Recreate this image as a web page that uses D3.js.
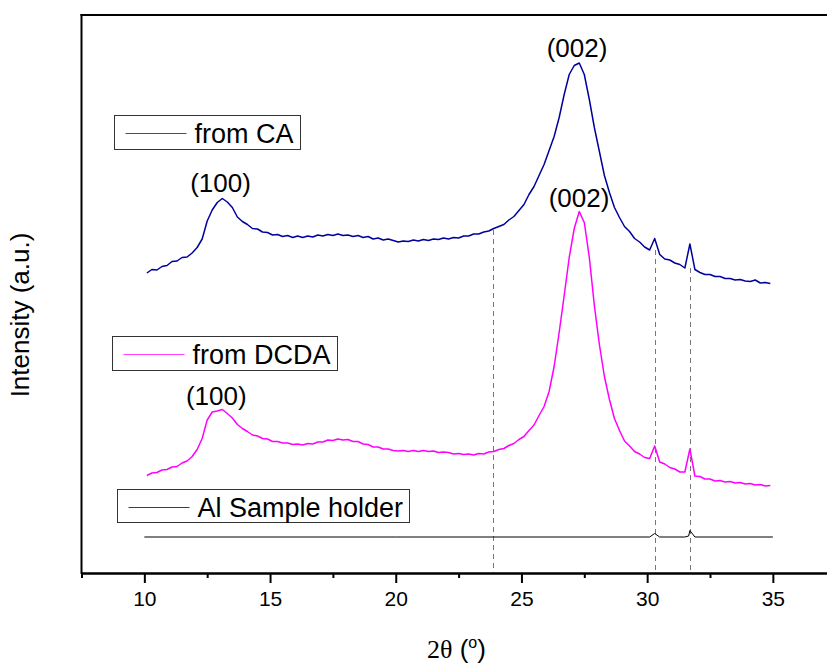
<!DOCTYPE html>
<html>
<head>
<meta charset="utf-8">
<script src="https://cdn.jsdelivr.net/npm/d3@7"></script>
<style>
  body { margin: 0; background: #fff; }
  svg { display: block; font-family: Arial, "Liberation Sans", sans-serif; }
</style>
</head>
<body>
<svg id="chart" width="827" height="664"></svg>
<script>
'use strict';

// 2-theta sampling (degrees)
var twoTheta = [
  10.1,10.3,10.5,10.7,10.9,11.1,11.3,11.5,11.7,11.9,
  12.1,12.3,12.5,12.7,12.9,13.1,13.3,13.5,13.7,13.9,
  14.1,14.3,14.5,14.7,14.9,15.1,15.3,15.5,15.7,15.9,
  16.1,16.3,16.5,16.7,16.9,17.1,17.3,17.5,17.7,17.9,
  18.1,18.3,18.5,18.7,18.9,19.1,19.3,19.5,19.7,19.9,
  20.1,20.3,20.5,20.7,20.9,21.1,21.3,21.5,21.7,21.9,
  22.1,22.3,22.5,22.7,22.9,23.1,23.3,23.5,23.7,23.9,
  24.1,24.3,24.5,24.7,24.9,25.1,25.3,25.5,25.7,25.9,
  26.1,26.3,26.5,26.7,26.9,27.1,27.3,27.5,27.7,27.9,
  28.1,28.3,28.5,28.7,28.9,29.1,29.3,29.5,29.7,29.9,
  30.1,30.3,30.5,30.7,30.9,31.1,31.3,31.5,31.7,31.9,
  32.1,32.3,32.5,32.7,32.9,33.1,33.3,33.5,33.7,33.9,
  34.1,34.3,34.5,34.7,34.9
];

// intensity, offset traces (a.u.)
var caCounts = [
  300,303.5,303,306.5,307.5,311.5,312,315.5,316,320,
  325.5,334,352,363,370.5,374.5,371,365.5,356,351.5,
  348.5,344.5,344,341,340.5,338,338.5,336.5,337.5,335.5,
  337,335.5,337,336,338,337,338.5,337.5,339,337.5,
  338,336.5,337.5,335.5,336.5,334,335,333,334,332.5,
  331,332,331.5,333,332,333.5,332.5,334,333.5,335,
  334,335.5,335,337,337,339,339,341,342,344.5,
  346.5,348.5,353,356.5,362.5,368.5,378.5,386.5,397.5,408.5,
  422.5,436.5,455.5,478.5,498.5,507.5,510,498.5,473.5,445.5,
  421.5,397.5,380.5,365.5,355.5,346.5,341.5,334.5,331,326,
  323,334.5,318.5,314,313,310,308.5,305,329,303.5,
  300.5,298.5,298.5,296.5,296.5,294.5,294.5,293,293.5,292,
  291.5,293,290,290.5,289.5
];

var dcdaCounts = [
  97.5,100,100.5,103,103.5,106,106.5,110,112,116.5,
  123.5,134.5,153,161,162,163.5,159.5,155,148.5,144.5,
  141.5,138,137,134.5,134,131.5,131.5,130,130,128.5,
  129,128,129.5,129,131,131,133,132.5,134,133,
  133.5,131.5,131.5,129,128.5,126,126,124,124,122.5,
  122,122.5,121.5,122.5,121.5,122.5,121.5,122,120.5,121,
  120.5,119,119.5,118.5,119,118,119.5,119,121,121.5,
  123.5,124.5,127.5,129.5,133.5,136.5,142.5,148,157.5,166.5,
  181.5,206.5,240.5,277.5,315.5,344.5,361.5,350.5,315.5,267.5,
  228.5,196.5,173.5,154.5,142.5,132,127,121.5,119,115.5,
  114.5,127,111,109,105.5,104,101,101,124,97,
  96.5,94,94,92,92.5,91,91.5,90,90.5,89,
  89.5,88,88.5,87,87.5
];

var holderTheta = [10.0, 20.0, 30.1, 30.3, 30.5, 31.5, 31.65, 31.7, 31.9, 35.0];
var holderCounts = [36, 36, 36, 39.5, 36, 36, 37, 42.5, 36, 36];

// reference lines (degrees) and where they start (a.u.)
var refLines = [23.85, 30.3, 31.7];
var refLineTops = [343, 323, 305];

var xTicks = [10, 15, 20, 25, 30, 35];
var xMinorTicks = [7.5, 12.5, 17.5, 22.5, 27.5, 32.5, 37.5];

var seriesNames = ['from CA', 'from DCDA', 'Al Sample holder'];
var seriesColors = ['#00009c', '#ff00ff', '#000000'];

var peakLabels = ['(100)', '(002)', '(100)', '(002)'];
var peakTheta = [13.03, 27.21, 12.86, 27.29];
var peakCounts = [381, 516, 168, 366];

// layout
var svg = d3.select('#chart');
var plotLeft = 81.5, plotTop = 15, plotBottom = 573;

var x = d3.scaleLinear().domain([7.5, 37.5]).range([plotLeft, plotLeft + 30 * 25.14]);
var y = d3.scaleLinear().domain([0, 558]).range([plotBottom, plotTop]);

var line = d3.line()
  .x(function(d){ return x(d[0]); })
  .y(function(d){ return y(d[1]); });

// reference dashed lines
svg.append('g')
  .selectAll('line')
  .data(d3.zip(refLines, refLineTops))
  .enter()
  .append('line')
  .attr('x1', function(d){ return Math.round(x(d[0])) + 0.5; })
  .attr('x2', function(d){ return Math.round(x(d[0])) + 0.5; })
  .attr('y1', function(d){ return y(d[1]); })
  .attr('y2', plotBottom)
  .style('stroke', '#777')
  .style('stroke-width', 1)
  .style('stroke-dasharray', '5,4');

// traces
var traces = [
  d3.zip(twoTheta, caCounts),
  d3.zip(twoTheta, dcdaCounts),
  d3.zip(holderTheta, holderCounts)
];

svg.append('g')
  .selectAll('path')
  .data(traces)
  .enter()
  .append('path')
  .attr('d', line)
  .style('fill', 'none')
  .style('stroke', function(d, i){ return seriesColors[i]; })
  .style('stroke-width', function(d, i){ return i == 2 ? 1 : 1.5; })
  .style('stroke-linejoin', 'round');

// peak labels
svg.append('g')
  .selectAll('text')
  .data(peakLabels)
  .enter()
  .append('text')
  .attr('x', function(d, i){ return x(peakTheta[i]); })
  .attr('y', function(d, i){ return y(peakCounts[i]); })
  .attr('text-anchor', 'middle')
  .style('font-size', '26px')
  .text(function(d){ return d; });

// frame + axes
var xAxis = d3.axisBottom(x)
  .tickValues(xTicks)
  .tickSize(10)
  .tickSizeOuter(0)
  .tickPadding(8)
  .tickFormat(d3.format('d'));

var xMinor = d3.axisBottom(x)
  .tickValues(xMinorTicks)
  .tickSize(5)
  .tickSizeOuter(0)
  .tickFormat('');

var gx = svg.append('g')
  .attr('transform', 'translate(0,' + plotBottom + ')')
  .call(xAxis);
gx.selectAll('text')
  .style('font-size', '21px')
  .style('font-family', 'Arial, "Liberation Sans", sans-serif')
  .style('fill', '#000');

svg.append('g')
  .attr('transform', 'translate(0,' + plotBottom + ')')
  .call(xMinor);

svg.selectAll('.domain').style('stroke', '#000').style('stroke-width', 2);
svg.selectAll('.tick line').style('stroke', '#000').style('stroke-width', 2);

svg.append('line')
  .attr('x1', plotLeft).attr('x2', plotLeft)
  .attr('y1', plotTop - 1).attr('y2', plotBottom + 1)
  .style('stroke', '#000').style('stroke-width', 2);
svg.append('line')
  .attr('x1', plotLeft - 1).attr('x2', x(37.5))
  .attr('y1', plotTop).attr('y2', plotTop)
  .style('stroke', '#000').style('stroke-width', 2);

// axis titles
var xt = svg.append('text')
  .attr('x', 427)
  .attr('y', 658)
  .style('font-size', '26px');
xt.append('tspan').style('font-family', '"Liberation Serif", "Times New Roman", serif').text('2θ');
xt.append('tspan').text(' (');
xt.append('tspan').attr('dy', -10).style('font-size', '16px').text('o');
xt.append('tspan').attr('dy', 10).text(')');

svg.append('text')
  .attr('transform', 'translate(29,315) rotate(-90)')
  .attr('text-anchor', 'middle')
  .style('font-size', '26px')
  .text('Intensity (a.u.)');

// legends, one box per trace
var legendBoxes = [
  { x: 114.5, y: 115.5, w: 186, h: 34 },
  { x: 112.5, y: 336.5, w: 225, h: 34 },
  { x: 117.5, y: 489.5, w: 292, h: 33 }
];

var lg = svg.append('g')
  .selectAll('g')
  .data(seriesNames)
  .enter()
  .append('g')
  .attr('transform', function(d, i){
    return 'translate(' + legendBoxes[i].x + ',' + legendBoxes[i].y + ')';
  });

lg.append('rect')
  .attr('width', function(d, i){ return legendBoxes[i].w; })
  .attr('height', function(d, i){ return legendBoxes[i].h; })
  .style('fill', '#fff')
  .style('stroke', '#333')
  .style('stroke-width', 1);

lg.append('line')
  .attr('x1', 11).attr('x2', 72)
  .attr('y1', 18).attr('y2', 18)
  .style('stroke', function(d, i){ return seriesColors[i]; })
  .style('stroke-width', 1)
  .style('opacity', 0.75);

lg.append('text')
  .attr('x', 80)
  .attr('y', 27)
  .style('font-size', '27px')
  .text(function(d){ return d; });
</script>
</body>
</html>
